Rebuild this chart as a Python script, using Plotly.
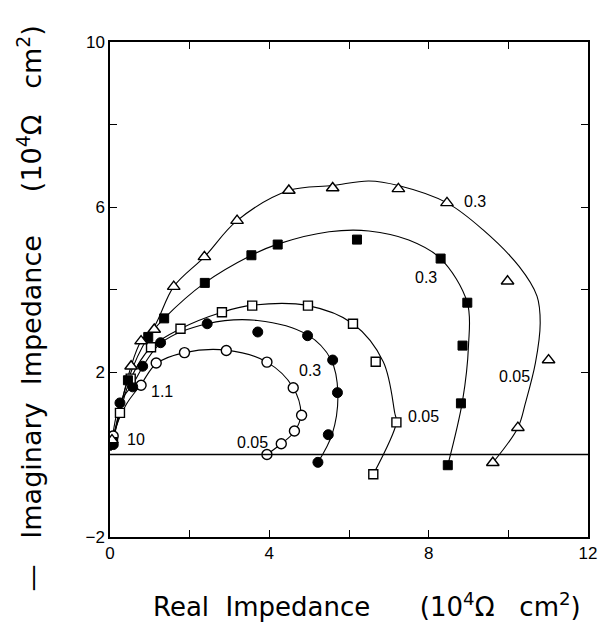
import plotly.graph_objects as go

# ---- measured points ----
oc_x = [0.08, 0.78, 1.16, 1.87, 2.92, 3.94, 4.60, 4.81, 4.63, 4.30, 3.94]
oc_y = [0.45, 1.68, 2.22, 2.47, 2.52, 2.24, 1.62, 0.95, 0.57, 0.26, 0.00]

fc_x = [0.08, 0.25, 0.57, 0.82, 1.27, 2.44, 3.71, 4.96, 5.59, 5.71, 5.48, 5.22]
fc_y = [0.24, 1.25, 1.64, 2.14, 2.71, 3.17, 2.97, 2.88, 2.29, 1.50, 0.48, -0.19]

os_x = [0.05, 0.25, 0.52, 1.03, 1.77, 2.81, 3.57, 4.97, 6.10, 6.67, 7.19, 6.61]
os_y = [0.30, 1.01, 1.84, 2.60, 3.05, 3.45, 3.61, 3.61, 3.17, 2.25, 0.78, -0.48]

fs_x = [0.08, 0.45, 0.96, 1.36, 2.38, 3.55, 4.21, 6.20, 8.30, 8.97, 8.85, 8.81, 8.48]
fs_y = [0.30, 1.80, 2.85, 3.30, 4.16, 4.83, 5.09, 5.21, 4.75, 3.68, 2.64, 1.24, -0.26]

ot_x = [0.05, 0.53, 0.78, 1.11, 1.60, 2.37, 3.19, 4.49, 5.59, 7.24, 8.46, 9.98, 11.01, 10.24, 9.61]
ot_y = [0.35, 2.14, 2.75, 3.03, 4.07, 4.79, 5.67, 6.40, 6.46, 6.44, 6.10, 4.20, 2.29, 0.65, -0.20]

# ---- fitted curves ----
oc_fit_x = [0.02, 0.08, 0.40, 0.78, 1.16, 1.87, 2.92, 3.94, 4.60, 4.79, 4.63, 4.30, 3.94]
oc_fit_y = [0.10, 0.45, 1.20, 1.70, 2.20, 2.47, 2.53, 2.24, 1.62, 0.95, 0.55, 0.26, 0.00]

fc_fit_x = [0.02, 0.25, 0.57, 0.90, 1.30, 2.44, 3.70, 4.96, 5.55, 5.72, 5.58, 5.22]
fc_fit_y = [0.10, 1.25, 1.70, 2.25, 2.72, 3.17, 3.25, 2.90, 2.30, 1.50, 0.50, -0.19]

os_fit_x = [0.02, 0.25, 0.52, 1.03, 1.77, 2.81, 3.57, 4.97, 6.10, 6.86, 7.15, 7.19, 6.61]
os_fit_y = [0.10, 1.00, 1.84, 2.60, 3.05, 3.45, 3.62, 3.61, 3.17, 2.25, 1.00, 0.78, -0.48]

fs_fit_x = [0.02, 0.45, 0.96, 1.36, 2.38, 3.55, 4.21, 5.50, 6.50, 7.50, 8.30, 8.97, 9.00, 8.85, 8.48]
fs_fit_y = [0.10, 1.80, 2.85, 3.30, 4.16, 4.83, 5.10, 5.40, 5.42, 5.20, 4.75, 3.68, 2.64, 1.30, -0.26]

ot_fit_x = [0.02, 0.53, 0.78, 1.11, 1.60, 2.37, 3.19, 4.49, 5.59, 6.50, 7.24, 8.46, 9.36, 10.27, 10.72, 10.80, 10.68, 10.43, 10.24, 9.61]
ot_fit_y = [0.10, 2.14, 2.75, 3.10, 4.07, 4.79, 5.67, 6.40, 6.52, 6.63, 6.52, 6.10, 5.45, 4.56, 3.84, 3.19, 2.22, 1.25, 0.65, -0.20]

# ---- frequency labels ----
lab_text = ["10", "1.1", "0.05", "0.3", "0.05", "0.3", "0.3", "0.05"]
lab_x = [0.66, 1.30, 3.57, 5.03, 7.88, 7.93, 9.16, 10.15]
lab_y = [0.36, 1.53, 0.29, 2.04, 0.92, 4.29, 6.13, 1.89]

x_ticks = [0, 4, 8, 12]
y_ticks = [-2, 2, 6, 10]

fig = go.Figure()

for fx, fy in [(oc_fit_x, oc_fit_y), (fc_fit_x, fc_fit_y), (os_fit_x, os_fit_y),
               (fs_fit_x, fs_fit_y), (ot_fit_x, ot_fit_y)]:
    fig.add_trace(go.Scatter(x=fx, y=fy, mode="lines",
                             line=dict(color="black", width=1.1, shape="spline", smoothing=1.0),
                             hoverinfo="skip", showlegend=False))

# horizontal zero line
fig.add_hline(y=0, line=dict(color="black", width=1.3))

markers = [
    (oc_x, oc_y, "circle-open", 10),
    (fc_x, fc_y, "circle", 10),
    (os_x, os_y, "square-open", 9),
    (fs_x, fs_y, "square", 9),
    (ot_x, ot_y, "triangle-up-open", 11),
]
for mx, my, sym, sz in markers:
    if "open" in sym:
        mk = dict(symbol=sym.replace("-open", ""), size=sz, color="white",
                  line=dict(color="black", width=1.4))
    else:
        mk = dict(symbol=sym, size=sz, color="black", line=dict(color="black", width=1))
    fig.add_trace(go.Scatter(x=mx, y=my, mode="markers", marker=mk, showlegend=False))

for t, x, y in zip(lab_text, lab_x, lab_y):
    fig.add_annotation(x=x, y=y, text=t, showarrow=False,
                       font=dict(family="Liberation Sans, Arial", size=16, color="black"))

axis_common = dict(showline=True, linecolor="black", linewidth=1.5, mirror="allticks",
                   ticks="inside", ticklen=7, tickwidth=1.3, tickcolor="black",
                   showgrid=False, zeroline=False,
                   tickfont=dict(family="Liberation Sans, Arial", size=17, color="black"),
                   minor=dict(ticks="inside", ticklen=7, tickwidth=1.3, tickcolor="black", dtick=2))

fig.update_xaxes(range=[0, 12], tickvals=x_ticks, **axis_common)
fig.update_yaxes(range=[-2, 10], tickvals=y_ticks, **axis_common)

sp = "\u00a0"
fig.add_annotation(xref="paper", yref="paper", x=0.538, y=-0.175,
                   text="Real" + sp * 2 + "Impedance" + sp * 6 + "(10<sup>4</sup>Ω" + sp * 3 + "cm<sup>2</sup>)",
                   showarrow=False, font=dict(family="DejaVu Sans", size=26, color="black"))
fig.add_annotation(xref="paper", yref="paper", x=-0.21, y=0.462, textangle=-90,
                   text="—" + sp * 3 + "Imaginary" + sp * 2 + "Impedance" + sp * 5 + "(10<sup>4</sup>Ω" + sp * 3 + "cm<sup>2</sup>)",
                   showarrow=False, font=dict(family="DejaVu Sans", size=27, color="black"))

fig.update_layout(width=607, height=628, plot_bgcolor="white", paper_bgcolor="white",
                  margin=dict(l=110, r=10, t=42, b=91), showlegend=False)

fig.write_html("out.html")
